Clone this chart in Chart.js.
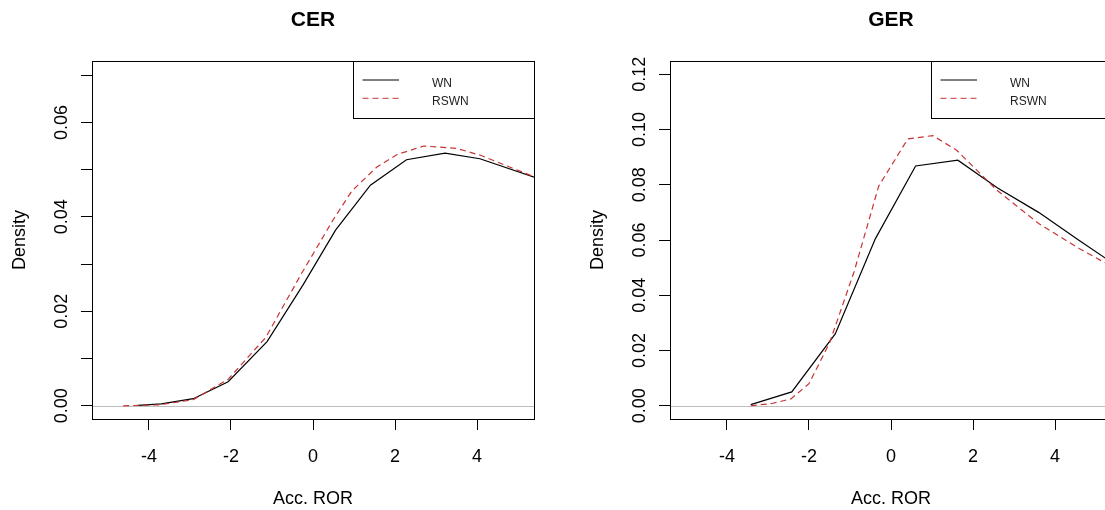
<!DOCTYPE html>
<html>
<head>
<meta charset="utf-8">
<script src="https://cdn.jsdelivr.net/npm/chart.js@4.4.1/dist/chart.umd.min.js"></script>
<style>
  html, body { margin: 0; padding: 0; background: #fff; overflow: hidden; width: 1105px; height: 510px; }
  #wrap { position: relative; width: 1105px; height: 510px; overflow: hidden; }
  canvas { position: absolute; top: 0; }
  #cer { left: 0; }
  #ger { left: 578px; }
</style>
</head>
<body>
<div id="wrap">
  <canvas id="cer" width="576" height="510"></canvas>
  <canvas id="ger" width="576" height="510"></canvas>
</div>
<script>
// ---- data ----
const seriesNames = ['WN', 'RSWN'];
const xAxisTitle = 'Acc. ROR';
const yAxisTitle = 'Density';
const xTicks = [-4, -2, 0, 2, 4];
const xTickLabels = ['-4', '-2', '0', '2', '4'];
const xRange = [-5.39, 5.39];

// CER panel
const cerTitle = 'CER';
const cerWNx = [-4.27, -3.7, -2.92, -2.07, -1.12, -0.25, 0.55, 1.4, 2.28, 3.22, 4.07, 5.5];
const cerWNy = [0.0001, 0.0004, 0.0015, 0.0051, 0.0136, 0.0255, 0.0372, 0.0467, 0.0521, 0.0535, 0.0523, 0.0481];
const cerRSWNx = [-4.63, -3.75, -2.92, -2.07, -1.15, -0.28, 0.5, 0.95, 1.55, 2.05, 2.7, 3.5, 4.1, 5.5];
const cerRSWNy = [0.0000, 0.0002, 0.0013, 0.0056, 0.0145, 0.0280, 0.0395, 0.0455, 0.0505, 0.0532, 0.0550, 0.0545, 0.0530, 0.0481];
const cerYTicks = [0, 0.01, 0.02, 0.03, 0.04, 0.05, 0.06, 0.07];
const cerYTickLabels = ['0.00', '', '0.02', '', '0.04', '', '0.06', ''];
const cerYRange = [-0.0028, 0.0730];

// GER panel
const gerTitle = 'GER';
const gerWNx = [-3.42, -2.42, -1.36, -0.38, 0.6, 1.63, 2.6, 3.6, 4.6, 5.6];
const gerWNy = [0.0004, 0.0050, 0.0260, 0.0605, 0.0868, 0.0889, 0.0788, 0.0700, 0.0597, 0.0497];
const gerRSWNx = [-3.42, -2.9, -2.44, -2.0, -1.5, -0.9, -0.3, 0.41, 1.02, 1.6, 2.6, 3.6, 4.6, 5.6];
const gerRSWNy = [0.0000, 0.0008, 0.0025, 0.0080, 0.0227, 0.0485, 0.0795, 0.0966, 0.0978, 0.0925, 0.0778, 0.0660, 0.0568, 0.0487];
const gerYTicks = [0, 0.02, 0.04, 0.06, 0.08, 0.10, 0.12];
const gerYTickLabels = ['0.00', '0.02', '0.04', '0.06', '0.08', '0.10', '0.12'];
const gerYRange = [-0.0048, 0.1248];

// ---- styling ----
const FONT = '"Liberation Sans", Arial, Helvetica, sans-serif';
const lineColors = ['#000000', '#c83434'];
const lineDashes = [[], [6, 4]];

// Frame, zero line, rotated tick labels, titles and legend drawn in base-graphics style
const rFrame = {
  id: 'rFrame',
  beforeDatasetsDraw(chart) {
    const { ctx, chartArea: a, scales: { y } } = chart;
    const py = Math.round(y.getPixelForValue(0)) + 0.5;
    ctx.save();
    ctx.strokeStyle = '#bebebe';
    ctx.lineWidth = 1;
    ctx.beginPath();
    ctx.moveTo(a.left, py);
    ctx.lineTo(a.right, py);
    ctx.stroke();
    ctx.restore();
  },
  afterDraw(chart, args, o) {
    const { ctx, chartArea: a, scales: { x, y } } = chart;
    ctx.save();
    ctx.strokeStyle = '#000';
    ctx.lineWidth = 1;
    ctx.strokeRect(a.left + 0.5, a.top + 0.5, a.right - a.left, a.bottom - a.top);

    ctx.fillStyle = '#000';
    ctx.font = '18px ' + FONT;
    ctx.textAlign = 'center';
    ctx.textBaseline = 'alphabetic';
    x.ticks.forEach((t, i) => {
      const lbl = o.xLabels[i];
      if (lbl) ctx.fillText(lbl, x.getPixelForValue(t.value), a.bottom + 42.5);
    });
    y.ticks.forEach((t, i) => {
      const lbl = o.yLabels[i];
      if (!lbl) return;
      ctx.save();
      ctx.translate(a.left - 25, y.getPixelForValue(t.value));
      ctx.rotate(-Math.PI / 2);
      ctx.fillText(lbl, 0, 0);
      ctx.restore();
    });

    const cx = (a.left + a.right) / 2;
    ctx.fillText(o.xTitle, cx, a.bottom + 84.5);
    ctx.save();
    ctx.translate(a.left - 67.5, (a.top + a.bottom) / 2);
    ctx.rotate(-Math.PI / 2);
    ctx.fillText(o.yTitle, 0, 0);
    ctx.restore();

    ctx.font = 'bold 21px ' + FONT;
    ctx.fillText(o.title, cx, 26);

    // legend, top right corner of the frame
    const lw = 181, lh = 57;
    const lx = a.right - lw, ly = a.top;
    ctx.fillStyle = '#fff';
    ctx.fillRect(lx, ly, lw, lh);
    ctx.strokeStyle = '#000';
    ctx.strokeRect(lx + 0.5, ly + 0.5, lw, lh);
    ctx.font = '12px ' + FONT;
    ctx.textAlign = 'left';
    chart.data.datasets.forEach((ds, i) => {
      const yy = ly + 19 + i * 18.3;
      ctx.strokeStyle = ds.borderColor;
      ctx.setLineDash(ds.borderDash || []);
      ctx.beginPath();
      ctx.moveTo(lx + 9.5, yy);
      ctx.lineTo(lx + 46, yy);
      ctx.stroke();
      ctx.setLineDash([]);
      ctx.fillStyle = '#222';
      ctx.fillText(ds.label, lx + 79, yy + 6.6);
    });
    ctx.restore();
  }
};

function toPoints(xs, ys) {
  return xs.map((v, i) => ({ x: v, y: ys[i] }));
}

function makePanel(id, title, seriesX, seriesY, yTicks, yTickLabels, yRange) {
  const datasets = seriesNames.map((name, i) => ({
    label: name,
    data: toPoints(seriesX[i], seriesY[i]),
    borderColor: lineColors[i],
    borderDash: lineDashes[i],
    borderWidth: 1.2,
    pointRadius: 0,
    tension: 0,
    fill: false,
    order: seriesNames.length - i
  }));
  return new Chart(document.getElementById(id), {
    type: 'line',
    data: { datasets },
    options: {
      responsive: false,
      animation: false,
      devicePixelRatio: 1,
      events: [],
      layout: { padding: { top: 61, right: 42, left: 0, bottom: 0 } },
      plugins: {
        legend: { display: false },
        tooltip: { enabled: false },
        title: { display: false },
        rFrame: { title, xLabels: xTickLabels, yLabels: yTickLabels, xTitle: xAxisTitle, yTitle: yAxisTitle }
      },
      scales: {
        x: {
          type: 'linear',
          min: xRange[0], max: xRange[1],
          afterBuildTicks: s => { s.ticks = xTicks.map(v => ({ value: v })); },
          afterFit: s => { s.height = 91; },
          ticks: { display: false },
          border: { display: false },
          grid: { drawOnChartArea: false, drawTicks: true, tickLength: 11, color: '#000', tickColor: '#000', lineWidth: 1 }
        },
        y: {
          type: 'linear',
          min: yRange[0], max: yRange[1],
          afterBuildTicks: s => { s.ticks = yTicks.map(v => ({ value: v })); },
          afterFit: s => { s.width = 92; },
          ticks: { display: false },
          border: { display: false },
          grid: { drawOnChartArea: false, drawTicks: true, tickLength: 11, color: '#000', tickColor: '#000', lineWidth: 1 }
        }
      }
    },
    plugins: [rFrame]
  });
}

makePanel('cer', cerTitle, [cerWNx, cerRSWNx], [cerWNy, cerRSWNy], cerYTicks, cerYTickLabels, cerYRange);
makePanel('ger', gerTitle, [gerWNx, gerRSWNx], [gerWNy, gerRSWNy], gerYTicks, gerYTickLabels, gerYRange);
</script>
</body>
</html>
